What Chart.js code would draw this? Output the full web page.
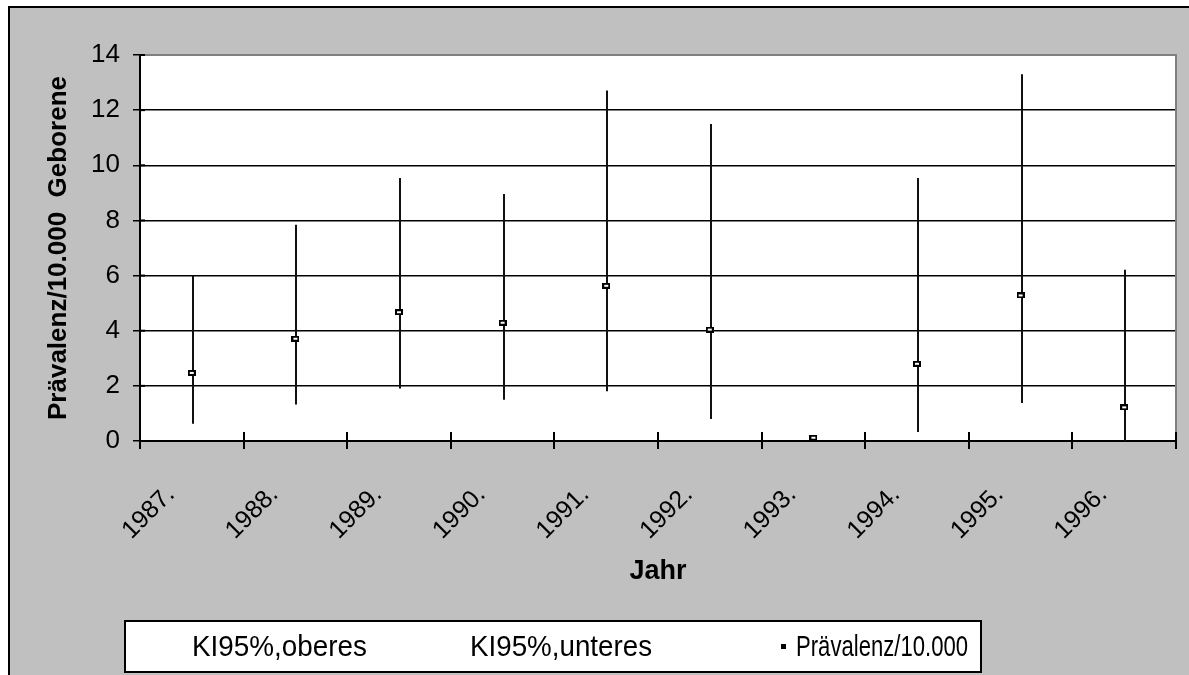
<!DOCTYPE html>
<html>
<head>
<meta charset="utf-8">
<script src="https://cdn.jsdelivr.net/npm/chart.js@4"></script>
<style>
  html, body { margin: 0; padding: 0; background: #fff; }
  #box { position: relative; width: 1189px; height: 675px; }
</style>
</head>
<body>
<div id="box"><canvas id="grafico" width="1189" height="675"></canvas></div>
<script>
// Werte
const jahre = ["1987.", "1988.", "1989.", "1990.", "1991.", "1992.", "1993.", "1994.", "1995.", "1996."];
const kiOberes = [6.0, 7.84, 9.54, 8.96, 12.71, 11.5, null, 9.54, 13.3, 6.21];
const kiUnteres = [0.63, 1.32, 1.9, 1.5, 1.8, 0.8, null, 0.33, 1.38, 0];
const praevalenz = [2.47, 3.71, 4.67, 4.29, 5.63, 4.04, 0.12, 2.8, 5.28, 1.22];
const legendeTexte = ["KI95%,oberes", "KI95%,unteres", "Prävalenz/10.000"];

const FONT = "'Liberation Sans', Arial, sans-serif";

// kleines Rechteck als Marker (breiter als hoch, wie im Original)
function markerBild() {
    const c = document.createElement("canvas");
    c.width = 8;
    c.height = 6;
    const g = c.getContext("2d");
    g.fillStyle = "#000";
    g.fillRect(0, 0, 8, 6);
    g.fillStyle = "#fff";
    g.fillRect(2, 2, 4, 2);
    return c;
}

const rahmen = {
    id: "rahmen",
    beforeDraw(chart) {
        const ctx = chart.ctx;
        const a = chart.chartArea;
        ctx.save();
        ctx.fillStyle = "#fff";
        ctx.fillRect(0, 0, chart.width, chart.height);
        ctx.fillStyle = "#c0c0c0";
        ctx.fillRect(9, 7, chart.width - 9, chart.height - 7);
        ctx.strokeStyle = "#000";
        ctx.lineWidth = 2;
        ctx.beginPath();
        ctx.moveTo(9, chart.height);
        ctx.lineTo(9, 7);
        ctx.lineTo(chart.width, 7);
        ctx.stroke();
        ctx.fillStyle = "#fff";
        ctx.fillRect(a.left, a.top, a.right - a.left, a.bottom - a.top);
        ctx.restore();
    },
    // vertikale Linien zwischen oberem und unterem KI
    beforeDatasetsDraw(chart) {
        const ctx = chart.ctx;
        const xs = chart.scales.x, ys = chart.scales.y;
        const a = chart.chartArea;
        ctx.save();
        ctx.strokeStyle = "#808080";
        ctx.lineWidth = 2;
        ctx.beginPath();
        ctx.moveTo(a.left, a.top);
        ctx.lineTo(a.right, a.top);
        ctx.lineTo(a.right, a.bottom);
        ctx.stroke();

        ctx.strokeStyle = "#111";
        ctx.lineWidth = 2;
        for (let i = 0; i < jahre.length; i++) {
            if (kiOberes[i] == null || kiUnteres[i] == null) continue;
            const x = Math.round(xs.getPixelForValue(i)) + 1;
            ctx.beginPath();
            ctx.moveTo(x, ys.getPixelForValue(kiUnteres[i]));
            ctx.lineTo(x, ys.getPixelForValue(kiOberes[i]));
            ctx.stroke();
        }
        ctx.restore();
    },
    afterDraw(chart) {
        const ctx = chart.ctx;
        const xs = chart.scales.x, ys = chart.scales.y;
        const a = chart.chartArea;
        ctx.save();
        // Striche auch nach innen
        ctx.strokeStyle = "#000";
        ctx.lineWidth = 2;
        for (let i = 0; i <= jahre.length; i++) {
            const x = Math.round(xs.getPixelForValue(i - 0.5));
            ctx.beginPath();
            ctx.moveTo(x, a.bottom);
            ctx.lineTo(x, a.bottom - 9);
            ctx.stroke();
        }
        for (let v = 0; v <= 14; v += 2) {
            const y = ys.getPixelForValue(v);
            ctx.beginPath();
            ctx.moveTo(a.left, y);
            ctx.lineTo(a.left + 5, y);
            ctx.stroke();
        }

        // Legende
        ctx.fillStyle = "#fff";
        ctx.fillRect(125, 621, 856, 51);
        ctx.strokeStyle = "#000";
        ctx.lineWidth = 2;
        ctx.strokeRect(125, 621, 856, 51);
        ctx.fillStyle = "#000";
        ctx.font = "30px " + FONT;
        ctx.textBaseline = "alphabetic";
        ctx.textAlign = "left";
        ctx.fillText(legendeTexte[0], 192, 656, 175);
        ctx.fillText(legendeTexte[1], 470, 656, 182);
        ctx.fillText(legendeTexte[2], 796, 656, 172);
        ctx.fillRect(781, 644, 5, 5);
        ctx.restore();
    }
};

const ctx = document.getElementById("grafico").getContext("2d");

new Chart(ctx, {
    type: "line",
    data: {
        labels: jahre,
        datasets: [
            {
                label: legendeTexte[0],
                data: kiOberes,
                showLine: false,
                pointRadius: 0
            },
            {
                label: legendeTexte[1],
                data: kiUnteres,
                showLine: false,
                pointRadius: 0
            },
            {
                label: legendeTexte[2],
                data: praevalenz,
                showLine: false,
                pointStyle: markerBild(),
                pointRadius: 4
            }
        ]
    },
    options: {
        responsive: false,
        animation: false,
        devicePixelRatio: 1,
        layout: { padding: { left: 0, top: 55, right: 13, bottom: 84 } },
        plugins: {
            legend: { display: false },
            tooltip: { enabled: false }
        },
        scales: {
            x: {
                offset: true,
                grid: { offset: true, drawOnChartArea: false, color: "#000", lineWidth: 2, tickLength: 8 },
                border: { color: "#000", width: 2 },
                ticks: {
                    color: "#000",
                    font: { family: FONT, size: 25 },
                    minRotation: 45,
                    maxRotation: 45,
                    autoSkip: false,
                    labelOffset: -21,
                    padding: 31
                },
                title: {
                    display: true,
                    text: "Jahr",
                    color: "#000",
                    font: { family: FONT, size: 27, weight: "bold" },
                    padding: { top: 0, bottom: 3 }
                },
                afterFit(s) { s.height = 150; }
            },
            y: {
                min: 0,
                max: 14,
                grid: {
                    color: c => (c.tick && c.tick.value === 14 ? "#808080" : "#000"),
                    tickColor: "#000",
                    lineWidth: 1.5,
                    tickLength: 7
                },
                border: { color: "#000", width: 2 },
                ticks: {
                    stepSize: 2,
                    color: "#000",
                    font: { family: FONT, size: 26 },
                    padding: 13
                },
                title: {
                    display: true,
                    text: "Prävalenz/10.000  Geborene",
                    color: "#000",
                    font: { family: FONT, size: 26, weight: "bold" },
                    padding: { top: 43, bottom: 0 }
                },
                afterFit(s) { s.width = 140; }
            }
        }
    },
    plugins: [rahmen]
});
</script>
</body>
</html>
